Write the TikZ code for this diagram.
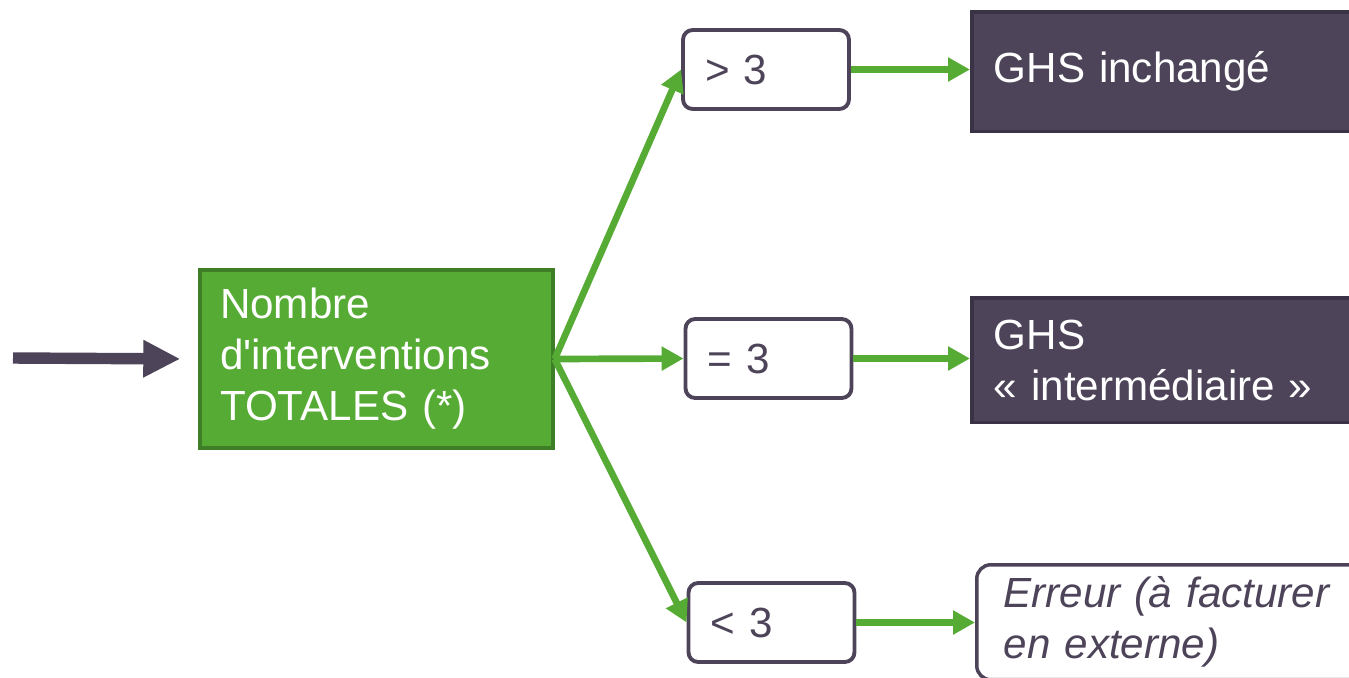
\documentclass[tikz,border=0pt]{standalone}
\usepackage{fontspec}
\setmainfont{Liberation Sans}
\usetikzlibrary{
    positioning,
    arrows.meta,
}
\definecolor{ghsgreen}{HTML}{56AB35}
\definecolor{ghsgreendark}{HTML}{3E7E26}
\definecolor{ghspurple}{HTML}{4D4459}
\definecolor{ghspurpledark}{HTML}{3A3346}

\begin{document}
\begin{tikzpicture}[
    x=0.02cm, y=-0.02cm,
    every node/.style={font=\fontsize{24}{29}\selectfont},
    box/.style={rectangle, draw=ghsgreendark, line width=2pt, fill=ghsgreen, text=white,
                minimum height=3.56cm, inner xsep=0.4cm, text width=6.26cm, align=left},
    cond/.style={rectangle, draw=ghspurple, line width=2.2pt, rounded corners=5.5pt, fill=white,
                 text=ghspurple, minimum height=1.58cm, inner xsep=0.44cm, text width=2.44cm, align=left},
    result/.style={rectangle, draw=ghspurpledark, line width=2pt, fill=ghspurple, text=white,
                   anchor=north west, inner xsep=0.44cm, text width=7.52cm, align=left},
    error box/.style={result, draw=ghspurple, rounded corners=8pt, fill=white, text=ghspurple,
                      font=\fontsize{24}{29}\selectfont\itshape, inner xsep=0.54cm},
    arrow/.style={-{Triangle[length=4.4mm, width=4.6mm]}, line width=3.8pt, ghsgreen},
    in arrow/.style={-{Triangle[length=7.4mm, width=7mm]}, line width=6.5pt, ghspurple},
]
    \useasboundingbox (0,0) rectangle (1349,677);
    \clip (0,0) rectangle (1349,677);

    % Start
    \node[box] (total) at (376.5,359) {Nombre\\d\textquotesingle interventions\\TOTALES (*)};
    \coordinate (start) at (13,358);
    \draw[in arrow, shorten >=0.36cm] (start) -- (total.west);

    % Conditions
    \node[cond] (gt) at (766,69.5) {> 3};
    \node[cond] (eq) at (768.5,358.5) {= 3};
    \node[cond] (lt) at (771.5,622.5) {< 3};
    \draw[arrow] (total.east) -- (gt.west);
    \draw[arrow] (total.east) -- (eq.west);
    \draw[arrow] (total.east) -- (lt.west);

    % Results
    \node[result, minimum height=2.4cm] (same) at (970,10) {GHS inchangé};
    \node[result, minimum height=2.5cm] (mid) at (970,296) {GHS\\« intermédiaire »};
    \node[error box, minimum height=2.3cm] (err) at (975,563) {Erreur (à facturer\\en externe)};
    \draw[arrow] (gt.east) -- (same.west |- gt.east);
    \draw[arrow] (eq.east) -- (mid.west |- eq.east);
    \draw[arrow] (lt.east) -- (err.west |- lt.east);
\end{tikzpicture}
\end{document}
